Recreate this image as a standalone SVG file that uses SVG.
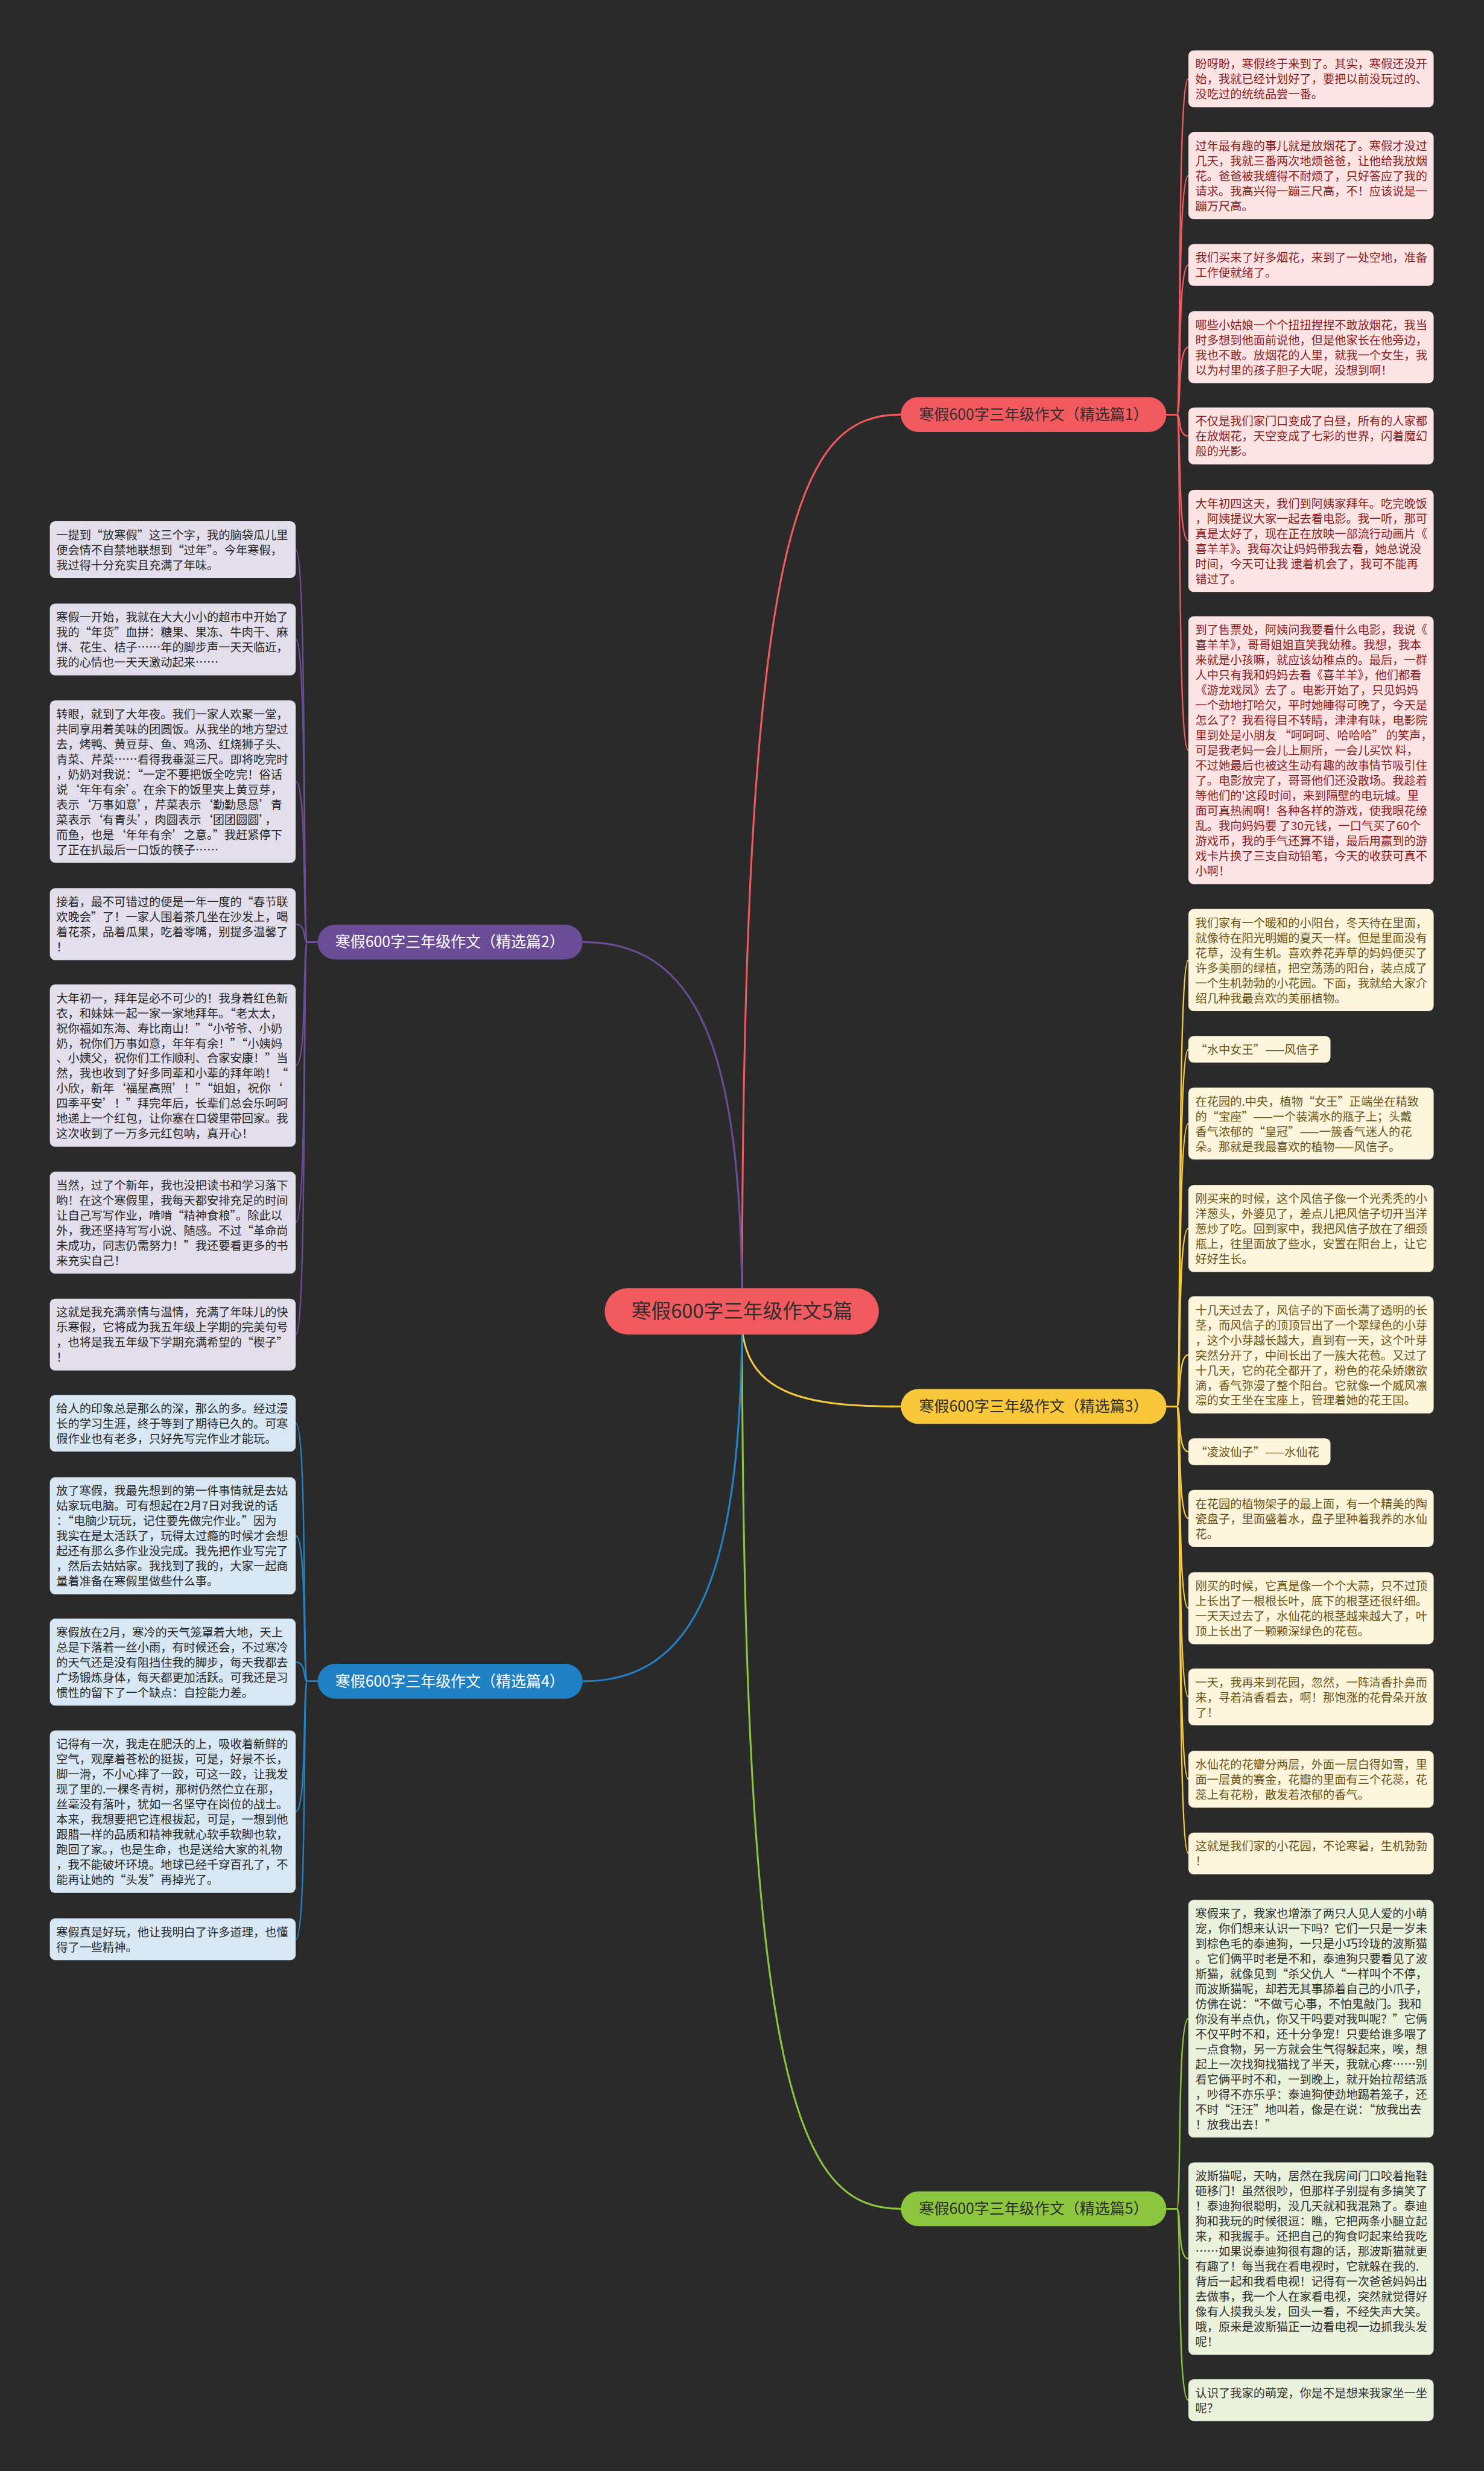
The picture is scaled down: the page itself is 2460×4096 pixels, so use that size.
<svg xmlns="http://www.w3.org/2000/svg" width="2460" height="4096" viewBox="0 0 2460 4096">
<style>
text{font-family:"Noto Sans CJK SC","Noto Sans",sans-serif;}
.lf{font-size:20px;}
.lk{fill:none;stroke-width:2.5;}
.tk{fill:none;stroke-width:3.2;}
.cR{stroke:#f25a5f;} .cY{stroke:#f6c83c;} .cG{stroke:#8cc63f;} .cP{stroke:#6b4c96;} .cB{stroke:#2183c6;}
.bR{fill:#fde4e4;} .bY{fill:#fdf6dc;} .bG{fill:#eaf2dc;} .bP{fill:#e2deeb;} .bB{fill:#d7e8f4;}
.tR{fill:#8a1c1e;} .tY{fill:#6b5418;} .tG{fill:#2e2e2e;} .tP{fill:#262626;} .tB{fill:#262626;}
.pill{font-size:26px;text-anchor:middle;}
</style>
<rect x="0" y="0" width="2460" height="4096" fill="#2a2a2a"/>
<g transform="scale(0.961)">
<g id="connectors">
<path class="tk cR" d="M1280 2260 C1280 900 1380 715 1554 715"/>
<path class="tk cY" d="M1280 2290 C1290 2410 1400 2426 1554 2426"/>
<path class="tk cG" d="M1280 2260 C1280 3620 1380 3810 1554 3810"/>
<path class="tk cP" d="M1280 2260 C1280 1800 1200 1625 1005 1625"/>
<path class="tk cB" d="M1280 2260 C1280 2720 1200 2900 1005 2900"/>
<g class="lk cR">
<path d="M2012 715 H2030 C2038 715 2030 136 2050 136"/>
<path d="M2012 715 H2030 C2038 715 2030 303 2050 303"/>
<path d="M2012 715 H2030 C2038 715 2030 457 2050 457"/>
<path d="M2012 715 H2030 C2038 715 2030 599 2050 599"/>
<path d="M2012 715 H2030 C2038 715 2030 752 2050 752"/>
<path d="M2012 715 H2030 C2038 715 2030 933 2050 933"/>
<path d="M2012 715 H2030 C2038 715 2030 1294 2050 1294"/>
</g>
<g class="lk cY">
<path d="M2012 2426 H2030 C2038 2426 2030 1656 2050 1656"/>
<path d="M2012 2426 H2030 C2038 2426 2030 1810 2050 1810"/>
<path d="M2012 2426 H2030 C2038 2426 2030 1938 2050 1938"/>
<path d="M2012 2426 H2030 C2038 2426 2030 2119 2050 2119"/>
<path d="M2012 2426 H2030 C2038 2426 2030 2337 2050 2337"/>
<path d="M2012 2426 H2030 C2038 2426 2030 2504 2050 2504"/>
<path d="M2012 2426 H2030 C2038 2426 2030 2619 2050 2619"/>
<path d="M2012 2426 H2030 C2038 2426 2030 2774 2050 2774"/>
<path d="M2012 2426 H2030 C2038 2426 2030 2927 2050 2927"/>
<path d="M2012 2426 H2030 C2038 2426 2030 3069 2050 3069"/>
<path d="M2012 2426 H2030 C2038 2426 2030 3197 2050 3197"/>
</g>
<g class="lk cG">
<path d="M2012 3810 H2030 C2038 3810 2030 3482 2050 3482"/>
<path d="M2012 3810 H2030 C2038 3810 2030 3896 2050 3896"/>
<path d="M2012 3810 H2030 C2038 3810 2030 4140 2050 4140"/>
</g>
<g class="lk cP">
<path d="M548 1625 H530 C522 1625 530 948 510 948"/>
<path d="M548 1625 H530 C522 1625 530 1103 510 1103"/>
<path d="M548 1625 H530 C522 1625 530 1348 510 1348"/>
<path d="M548 1625 H530 C522 1625 530 1594 510 1594"/>
<path d="M548 1625 H530 C522 1625 530 1838 510 1838"/>
<path d="M548 1625 H530 C522 1625 530 2109 510 2109"/>
<path d="M548 1625 H530 C522 1625 530 2302 510 2302"/>
</g>
<g class="lk cB">
<path d="M548 2900 H530 C522 2900 530 2455 510 2455"/>
<path d="M548 2900 H530 C522 2900 530 2649 510 2649"/>
<path d="M548 2900 H530 C522 2900 530 2867 510 2867"/>
<path d="M548 2900 H530 C522 2900 530 3125 510 3125"/>
<path d="M548 2900 H530 C522 2900 530 3345 510 3345"/>
</g>
</g>

<g id="center">
<rect x="1043" y="2222" width="473" height="80" rx="40" fill="#f25a5f"/>
<text x="1280" y="2274" font-size="34" text-anchor="middle" fill="#2e2e2e">寒假600字三年级作文5篇</text>
</g>
<g id="branch1">
<rect x="1554" y="685" width="458" height="60" rx="30" fill="#f25a5f"/>
<text class="pill" x="1783" y="724" fill="#2e2e2e">寒假600字三年级作文（精选篇1）</text>
</g>
<g id="branch3">
<rect x="1554" y="2396" width="458" height="60" rx="30" fill="#f8c83a"/>
<text class="pill" x="1783" y="2435" fill="#2e2e2e">寒假600字三年级作文（精选篇3）</text>
</g>
<g id="branch5">
<rect x="1554" y="3780" width="458" height="60" rx="30" fill="#8cc63f"/>
<text class="pill" x="1783" y="3819" fill="#2e2e2e">寒假600字三年级作文（精选篇5）</text>
</g>
<g id="branch2">
<rect x="548" y="1595" width="457" height="60" rx="30" fill="#6b4c96"/>
<text class="pill" x="776" y="1634" fill="#ffffff">寒假600字三年级作文（精选篇2）</text>
</g>
<g id="branch4">
<rect x="548" y="2870" width="457" height="60" rx="30" fill="#1f80c4"/>
<text class="pill" x="776" y="2909" fill="#ffffff">寒假600字三年级作文（精选篇4）</text>
</g>

<g id="r1"><rect class="bR" x="2050" y="87" width="423" height="98" rx="9"/>
<text class="lf tR"><tspan x="2062" y="118">盼呀盼，寒假终于来到了。其实，寒假还没开</tspan><tspan x="2062" y="144">始，我就已经计划好了，要把以前没玩过的、</tspan><tspan x="2062" y="170">没吃过的统统品尝一番。</tspan></text></g>
<g id="r2"><rect class="bR" x="2050" y="228" width="423" height="150" rx="9"/>
<text class="lf tR"><tspan x="2062" y="259">过年最有趣的事儿就是放烟花了。寒假才没过</tspan><tspan x="2062" y="285">几天，我就三番两次地烦爸爸，让他给我放烟</tspan><tspan x="2062" y="311">花。爸爸被我缠得不耐烦了，只好答应了我的</tspan><tspan x="2062" y="337">请求。我高兴得一蹦三尺高，不！应该说是一</tspan><tspan x="2062" y="363">蹦万尺高。</tspan></text></g>
<g id="r3"><rect class="bR" x="2050" y="421" width="423" height="72" rx="9"/>
<text class="lf tR"><tspan x="2062" y="452">我们买来了好多烟花，来到了一处空地，准备</tspan><tspan x="2062" y="478">工作便就绪了。</tspan></text></g>
<g id="r4"><rect class="bR" x="2050" y="537" width="423" height="124" rx="9"/>
<text class="lf tR"><tspan x="2062" y="568">哪些小姑娘一个个扭扭捏捏不敢放烟花，我当</tspan><tspan x="2062" y="594">时多想到他面前说他，但是他家长在他旁边，</tspan><tspan x="2062" y="620">我也不敢。放烟花的人里，就我一个女生，我</tspan><tspan x="2062" y="646">以为村里的孩子胆子大呢，没想到啊！</tspan></text></g>
<g id="r5"><rect class="bR" x="2050" y="703" width="423" height="98" rx="9"/>
<text class="lf tR"><tspan x="2062" y="734">不仅是我们家门口变成了白昼，所有的人家都</tspan><tspan x="2062" y="760">在放烟花，天空变成了七彩的世界，闪着魔幻</tspan><tspan x="2062" y="786">般的光影。</tspan></text></g>
<g id="r6"><rect class="bR" x="2050" y="845" width="423" height="176" rx="9"/>
<text class="lf tR"><tspan x="2062" y="876">大年初四这天，我们到阿姨家拜年。吃完晚饭</tspan><tspan x="2062" y="902">，阿姨提议大家一起去看电影。我一听，那可</tspan><tspan x="2062" y="928">真是太好了，现在正在放映一部流行动画片《</tspan><tspan x="2062" y="954">喜羊羊》。我每次让妈妈带我去看，她总说没</tspan><tspan x="2062" y="980">时间，今天可让我 逮着机会了，我可不能再</tspan><tspan x="2062" y="1006">错过了。</tspan></text></g>
<g id="r7"><rect class="bR" x="2050" y="1063" width="423" height="462" rx="9"/>
<text class="lf tR"><tspan x="2062" y="1094">到了售票处，阿姨问我要看什么电影，我说《</tspan><tspan x="2062" y="1120">喜羊羊》，哥哥姐姐直笑我幼稚。我想，我本</tspan><tspan x="2062" y="1146">来就是小孩嘛，就应该幼稚点的。最后，一群</tspan><tspan x="2062" y="1172">人中只有我和妈妈去看《喜羊羊》，他们都看</tspan><tspan x="2062" y="1198">《游龙戏凤》去了 。电影开始了，只见妈妈</tspan><tspan x="2062" y="1224">一个劲地打哈欠，平时她睡得可晚了，今天是</tspan><tspan x="2062" y="1250">怎么了？我看得目不转睛，津津有味，电影院</tspan><tspan x="2062" y="1276">里到处是小朋友 “呵呵呵、哈哈哈” 的笑声，</tspan><tspan x="2062" y="1302">可是我老妈一会儿上厕所，一会儿买饮 料，</tspan><tspan x="2062" y="1328">不过她最后也被这生动有趣的故事情节吸引住</tspan><tspan x="2062" y="1354">了。电影放完了，哥哥他们还没散场。我趁着</tspan><tspan x="2062" y="1380">等他们的'这段时间，来到隔壁的电玩城。里</tspan><tspan x="2062" y="1406">面可真热闹啊！各种各样的游戏，使我眼花缭</tspan><tspan x="2062" y="1432">乱。我向妈妈要 了30元钱，一口气买了60个</tspan><tspan x="2062" y="1458">游戏币，我的手气还算不错，最后用赢到的游</tspan><tspan x="2062" y="1484">戏卡片换了三支自动铅笔，今天的收获可真不</tspan><tspan x="2062" y="1510">小啊！</tspan></text></g>

<g id="y1"><rect class="bY" x="2050" y="1568" width="423" height="176" rx="9"/>
<text class="lf tY"><tspan x="2062" y="1599">我们家有一个暖和的小阳台，冬天待在里面，</tspan><tspan x="2062" y="1625">就像待在阳光明媚的夏天一样。但是里面没有</tspan><tspan x="2062" y="1651">花草，没有生机。喜欢养花弄草的妈妈便买了</tspan><tspan x="2062" y="1677">许多美丽的绿植，把空荡荡的阳台，装点成了</tspan><tspan x="2062" y="1703">一个生机勃勃的小花园。下面，我就给大家介</tspan><tspan x="2062" y="1729">绍几种我最喜欢的美丽植物。</tspan></text></g>
<g id="y2"><rect class="bY" x="2050" y="1787" width="245" height="46" rx="9"/>
<text class="lf tY"><tspan x="2062" y="1818">“水中女王”——风信子</tspan></text></g>
<g id="y3"><rect class="bY" x="2050" y="1876" width="423" height="124" rx="9"/>
<text class="lf tY"><tspan x="2062" y="1907">在花园的.中央，植物“女王”正端坐在精致</tspan><tspan x="2062" y="1933">的“宝座”——一个装满水的瓶子上；头戴</tspan><tspan x="2062" y="1959">香气浓郁的“皇冠”——一簇香气迷人的花</tspan><tspan x="2062" y="1985">朵。那就是我最喜欢的植物——风信子。</tspan></text></g>
<g id="y4"><rect class="bY" x="2050" y="2044" width="423" height="150" rx="9"/>
<text class="lf tY"><tspan x="2062" y="2075">刚买来的时候，这个风信子像一个光秃秃的小</tspan><tspan x="2062" y="2101">洋葱头，外婆见了，差点儿把风信子切开当洋</tspan><tspan x="2062" y="2127">葱炒了吃。回到家中，我把风信子放在了细颈</tspan><tspan x="2062" y="2153">瓶上，往里面放了些水，安置在阳台上，让它</tspan><tspan x="2062" y="2179">好好生长。</tspan></text></g>
<g id="y5"><rect class="bY" x="2050" y="2236" width="423" height="202" rx="9"/>
<text class="lf tY"><tspan x="2062" y="2267">十几天过去了，风信子的下面长满了透明的长</tspan><tspan x="2062" y="2293">茎，而风信子的顶顶冒出了一个翠绿色的小芽</tspan><tspan x="2062" y="2319">，这个小芽越长越大，直到有一天，这个叶芽</tspan><tspan x="2062" y="2345">突然分开了，中间长出了一簇大花苞。又过了</tspan><tspan x="2062" y="2371">十几天，它的花全都开了，粉色的花朵娇嫩欲</tspan><tspan x="2062" y="2397">滴，香气弥漫了整个阳台。它就像一个威风凛</tspan><tspan x="2062" y="2423">凛的女王坐在宝座上，管理着她的花王国。</tspan></text></g>
<g id="y6"><rect class="bY" x="2050" y="2481" width="245" height="46" rx="9"/>
<text class="lf tY"><tspan x="2062" y="2512">“凌波仙子”——水仙花</tspan></text></g>
<g id="y7"><rect class="bY" x="2050" y="2570" width="423" height="98" rx="9"/>
<text class="lf tY"><tspan x="2062" y="2601">在花园的植物架子的最上面，有一个精美的陶</tspan><tspan x="2062" y="2627">瓷盘子，里面盛着水，盘子里种着我养的水仙</tspan><tspan x="2062" y="2653">花。</tspan></text></g>
<g id="y8"><rect class="bY" x="2050" y="2712" width="423" height="124" rx="9"/>
<text class="lf tY"><tspan x="2062" y="2743">刚买的时候，它真是像一个个大蒜，只不过顶</tspan><tspan x="2062" y="2769">上长出了一根根长叶，底下的根茎还很纤细。</tspan><tspan x="2062" y="2795">一天天过去了，水仙花的根茎越来越大了，叶</tspan><tspan x="2062" y="2821">顶上长出了一颗颗深绿色的花苞。</tspan></text></g>
<g id="y9"><rect class="bY" x="2050" y="2878" width="423" height="98" rx="9"/>
<text class="lf tY"><tspan x="2062" y="2909">一天，我再来到花园，忽然，一阵清香扑鼻而</tspan><tspan x="2062" y="2935">来，寻着清香看去，啊！那饱涨的花骨朵开放</tspan><tspan x="2062" y="2961">了！</tspan></text></g>
<g id="y10"><rect class="bY" x="2050" y="3020" width="423" height="98" rx="9"/>
<text class="lf tY"><tspan x="2062" y="3051">水仙花的花瓣分两层，外面一层白得如雪，里</tspan><tspan x="2062" y="3077">面一层黄的赛金，花瓣的里面有三个花蕊，花</tspan><tspan x="2062" y="3103">蕊上有花粉，散发着浓郁的香气。</tspan></text></g>
<g id="y11"><rect class="bY" x="2050" y="3161" width="423" height="72" rx="9"/>
<text class="lf tY"><tspan x="2062" y="3192">这就是我们家的小花园，不论寒暑，生机勃勃</tspan><tspan x="2062" y="3218">！</tspan></text></g>

<g id="g1"><rect class="bG" x="2050" y="3277" width="423" height="410" rx="9"/>
<text class="lf tG"><tspan x="2062" y="3308">寒假来了，我家也增添了两只人见人爱的小萌</tspan><tspan x="2062" y="3334">宠，你们想来认识一下吗？它们一只是一岁未</tspan><tspan x="2062" y="3360">到棕色毛的泰迪狗，一只是小巧玲珑的波斯猫</tspan><tspan x="2062" y="3386">。它们俩平时老是不和，泰迪狗只要看见了波</tspan><tspan x="2062" y="3412">斯猫，就像见到“杀父仇人“一样叫个不停，</tspan><tspan x="2062" y="3438">而波斯猫呢，却若无其事舔着自己的小爪子，</tspan><tspan x="2062" y="3464">仿佛在说：“不做亏心事，不怕鬼敲门。我和</tspan><tspan x="2062" y="3490">你没有半点仇，你又干吗要对我叫呢？”它俩</tspan><tspan x="2062" y="3516">不仅平时不和，还十分争宠！只要给谁多喂了</tspan><tspan x="2062" y="3542">一点食物，另一方就会生气得躲起来，唉，想</tspan><tspan x="2062" y="3568">起上一次找狗找猫找了半天，我就心疼……别</tspan><tspan x="2062" y="3594">看它俩平时不和，一到晚上，就开始拉帮结派</tspan><tspan x="2062" y="3620">，吵得不亦乐乎：泰迪狗使劲地踢着笼子，还</tspan><tspan x="2062" y="3646">不时“汪汪”地叫着，像是在说：“放我出去</tspan><tspan x="2062" y="3672">！放我出去！”</tspan></text></g>
<g id="g2"><rect class="bG" x="2050" y="3730" width="423" height="332" rx="9"/>
<text class="lf tG"><tspan x="2062" y="3761">波斯猫呢，天呐，居然在我房间门口咬着拖鞋</tspan><tspan x="2062" y="3787">砸移门！虽然很吵，但那样子别提有多搞笑了</tspan><tspan x="2062" y="3813">！泰迪狗很聪明，没几天就和我混熟了。泰迪</tspan><tspan x="2062" y="3839">狗和我玩的时候很逗：瞧，它把两条小腿立起</tspan><tspan x="2062" y="3865">来，和我握手。还把自己的狗食叼起来给我吃</tspan><tspan x="2062" y="3891">……如果说泰迪狗很有趣的话，那波斯猫就更</tspan><tspan x="2062" y="3917">有趣了！每当我在看电视时，它就躲在我的.</tspan><tspan x="2062" y="3943">背后一起和我看电视！记得有一次爸爸妈妈出</tspan><tspan x="2062" y="3969">去做事，我一个人在家看电视，突然就觉得好</tspan><tspan x="2062" y="3995">像有人摸我头发，回头一看，不经失声大笑。</tspan><tspan x="2062" y="4021">哦，原来是波斯猫正一边看电视一边抓我头发</tspan><tspan x="2062" y="4047">呢！</tspan></text></g>
<g id="g3"><rect class="bG" x="2050" y="4104" width="423" height="72" rx="9"/>
<text class="lf tG"><tspan x="2062" y="4135">认识了我家的萌宠，你是不是想来我家坐一坐</tspan><tspan x="2062" y="4161">呢？</tspan></text></g>

<g id="l1"><rect class="bP" x="86" y="899" width="424" height="98" rx="9"/>
<text class="lf tP"><tspan x="97" y="930">一提到“放寒假”这三个字，我的脑袋瓜儿里</tspan><tspan x="97" y="956">便会情不自禁地联想到“过年”。今年寒假，</tspan><tspan x="97" y="982">我过得十分充实且充满了年味。</tspan></text></g>
<g id="l2"><rect class="bP" x="86" y="1041" width="424" height="124" rx="9"/>
<text class="lf tP"><tspan x="97" y="1072">寒假一开始，我就在大大小小的超市中开始了</tspan><tspan x="97" y="1098">我的“年货”血拼：糖果、果冻、牛肉干、麻</tspan><tspan x="97" y="1124">饼、花生、桔子……年的脚步声一天天临近，</tspan><tspan x="97" y="1150">我的心情也一天天激动起来……</tspan></text></g>
<g id="l3"><rect class="bP" x="86" y="1208" width="424" height="280" rx="9"/>
<text class="lf tP"><tspan x="97" y="1239">转眼，就到了大年夜。我们一家人欢聚一堂，</tspan><tspan x="97" y="1265">共同享用着美味的团圆饭。从我坐的地方望过</tspan><tspan x="97" y="1291">去，烤鸭、黄豆芽、鱼、鸡汤、红烧狮子头、</tspan><tspan x="97" y="1317">青菜、芹菜……看得我垂涎三尺。即将吃完时</tspan><tspan x="97" y="1343">，奶奶对我说：“一定不要把饭全吃完！俗话</tspan><tspan x="97" y="1369">说‘年年有余’。在余下的饭里夹上黄豆芽，</tspan><tspan x="97" y="1395">表示‘万事如意’，芹菜表示‘勤勤恳恳’青</tspan><tspan x="97" y="1421">菜表示‘有青头’，肉圆表示‘团团圆圆’，</tspan><tspan x="97" y="1447">而鱼，也是‘年年有余’之意。”我赶紧停下</tspan><tspan x="97" y="1473">了正在扒最后一口饭的筷子……</tspan></text></g>
<g id="l4"><rect class="bP" x="86" y="1532" width="424" height="124" rx="9"/>
<text class="lf tP"><tspan x="97" y="1563">接着，最不可错过的便是一年一度的“春节联</tspan><tspan x="97" y="1589">欢晚会”了！一家人围着茶几坐在沙发上，喝</tspan><tspan x="97" y="1615">着花茶，品着瓜果，吃着零嘴，别提多温馨了</tspan><tspan x="97" y="1641">！</tspan></text></g>
<g id="l5"><rect class="bP" x="86" y="1698" width="424" height="280" rx="9"/>
<text class="lf tP"><tspan x="97" y="1729">大年初一，拜年是必不可少的！我身着红色新</tspan><tspan x="97" y="1755">衣，和妹妹一起一家一家地拜年。“老太太，</tspan><tspan x="97" y="1781">祝你福如东海、寿比南山！”“小爷爷、小奶</tspan><tspan x="97" y="1807">奶，祝你们万事如意，年年有余！”“小姨妈</tspan><tspan x="97" y="1833">、小姨父，祝你们工作顺利、合家安康！”当</tspan><tspan x="97" y="1859">然，我也收到了好多同辈和小辈的拜年哟！“</tspan><tspan x="97" y="1885">小欣，新年‘福星高照’！”“姐姐，祝你‘</tspan><tspan x="97" y="1911">四季平安’！”拜完年后，长辈们总会乐呵呵</tspan><tspan x="97" y="1937">地递上一个红包，让你塞在口袋里带回家。我</tspan><tspan x="97" y="1963">这次收到了一万多元红包呐，真开心！</tspan></text></g>
<g id="l6"><rect class="bP" x="86" y="2021" width="424" height="176" rx="9"/>
<text class="lf tP"><tspan x="97" y="2052">当然，过了个新年，我也没把读书和学习落下</tspan><tspan x="97" y="2078">哟！在这个寒假里，我每天都安排充足的时间</tspan><tspan x="97" y="2104">让自己写写作业，啃啃“精神食粮”。除此以</tspan><tspan x="97" y="2130">外，我还坚持写写小说、随感。不过“革命尚</tspan><tspan x="97" y="2156">未成功，同志仍需努力！”我还要看更多的书</tspan><tspan x="97" y="2182">来充实自己！</tspan></text></g>
<g id="l7"><rect class="bP" x="86" y="2240" width="424" height="124" rx="9"/>
<text class="lf tP"><tspan x="97" y="2271">这就是我充满亲情与温情，充满了年味儿的快</tspan><tspan x="97" y="2297">乐寒假，它将成为我五年级上学期的完美句号</tspan><tspan x="97" y="2323">，也将是我五年级下学期充满希望的“楔子”</tspan><tspan x="97" y="2349">！</tspan></text></g>

<g id="l8"><rect class="bB" x="86" y="2406" width="424" height="98" rx="9"/>
<text class="lf tB"><tspan x="97" y="2437">给人的印象总是那么的深，那么的多。经过漫</tspan><tspan x="97" y="2463">长的学习生涯，终于等到了期待已久的。可寒</tspan><tspan x="97" y="2489">假作业也有老多，只好先写完作业才能玩。</tspan></text></g>
<g id="l9"><rect class="bB" x="86" y="2548" width="424" height="202" rx="9"/>
<text class="lf tB"><tspan x="97" y="2579">放了寒假，我最先想到的第一件事情就是去姑</tspan><tspan x="97" y="2605">姑家玩电脑。可有想起在2月7日对我说的话</tspan><tspan x="97" y="2631">：“电脑少玩玩，记住要先做完作业。”因为</tspan><tspan x="97" y="2657">我实在是太活跃了，玩得太过瘾的时候才会想</tspan><tspan x="97" y="2683">起还有那么多作业没完成。我先把作业写完了</tspan><tspan x="97" y="2709">，然后去姑姑家。我找到了我的，大家一起商</tspan><tspan x="97" y="2735">量着准备在寒假里做些什么事。</tspan></text></g>
<g id="l10"><rect class="bB" x="86" y="2792" width="424" height="150" rx="9"/>
<text class="lf tB"><tspan x="97" y="2823">寒假放在2月，寒冷的天气笼罩着大地，天上</tspan><tspan x="97" y="2849">总是下落着一丝小雨，有时候还会，不过寒冷</tspan><tspan x="97" y="2875">的天气还是没有阻挡住我的脚步，每天我都去</tspan><tspan x="97" y="2901">广场锻炼身体，每天都更加活跃。可我还是习</tspan><tspan x="97" y="2927">惯性的留下了一个缺点：自控能力差。</tspan></text></g>
<g id="l11"><rect class="bB" x="86" y="2985" width="424" height="280" rx="9"/>
<text class="lf tB"><tspan x="97" y="3016">记得有一次，我走在肥沃的上，吸收着新鲜的</tspan><tspan x="97" y="3042">空气，观摩着苍松的挺拔，可是，好景不长，</tspan><tspan x="97" y="3068">脚一滑，不小心摔了一跤，可这一跤，让我发</tspan><tspan x="97" y="3094">现了里的.一棵冬青树，那树仍然伫立在那，</tspan><tspan x="97" y="3120">丝毫没有落叶，犹如一名坚守在岗位的战士。</tspan><tspan x="97" y="3146">本来，我想要把它连根拔起，可是，一想到他</tspan><tspan x="97" y="3172">跟腊一样的品质和精神我就心软手软脚也软，</tspan><tspan x="97" y="3198">跑回了家。，也是生命，也是送给大家的礼物</tspan><tspan x="97" y="3224">，我不能破坏环境。地球已经千穿百孔了，不</tspan><tspan x="97" y="3250">能再让她的“头发”再掉光了。</tspan></text></g>
<g id="l12"><rect class="bB" x="86" y="3309" width="424" height="72" rx="9"/>
<text class="lf tB"><tspan x="97" y="3340">寒假真是好玩，他让我明白了许多道理，也懂</tspan><tspan x="97" y="3366">得了一些精神。</tspan></text></g>
</g>
</svg>
